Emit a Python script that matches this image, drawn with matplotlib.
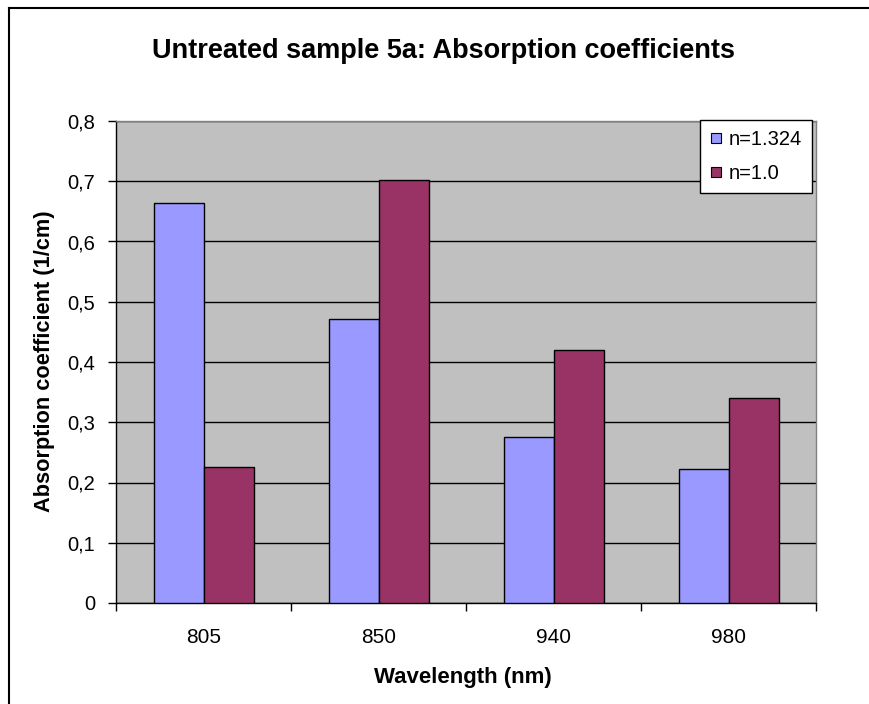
import matplotlib
matplotlib.use("Agg")
import matplotlib.pyplot as plt
import numpy as np
from matplotlib.lines import Line2D
from matplotlib.ticker import FuncFormatter

plt.rcParams['font.family'] = ['Liberation Sans', 'DejaVu Sans']

# Data.
wavelengths = ["805", "850", "940", "980"]
n_1324 = [0.664, 0.471, 0.276, 0.222]
n_10 = [0.226, 0.702, 0.420, 0.340]
series_names = ["n=1.324", "n=1.0"]
series_colors = ["#9999FF", "#993366"]

fig = plt.figure(figsize=(8.69, 7.04), dpi=100)
ax = fig.add_axes([116/869, 1-603/704, 700/869, 482/704])
ax.set_facecolor("#C0C0C0")

x = np.arange(len(wavelengths))
w = 1/3.5
ax.bar(x - w/2, n_1324, w, color=series_colors[0], edgecolor="black", linewidth=1, zorder=3)
ax.bar(x + w/2, n_10, w, color=series_colors[1], edgecolor="black", linewidth=1, zorder=3)

ax.set_xlim(-0.5, len(wavelengths) - 0.5)
ax.set_ylim(0, 0.8)
ax.set_yticks(np.arange(0, 0.81, 0.1))
ax.yaxis.set_major_formatter(FuncFormatter(lambda v, p: "0" if abs(v) < 1e-9 else ("%.1f" % v).replace(".", ",")))
ax.yaxis.grid(True, color="black", linewidth=1, zorder=1)
ax.set_axisbelow(True)

# category ticks at boundaries, labels centred
ax.set_xticks(np.arange(-0.5, len(wavelengths)), minor=False)
ax.set_xticklabels([""] * (len(wavelengths) + 1))
ax.set_xticks(x, minor=True)
ax.set_xticklabels(wavelengths, minor=True)
ax.tick_params(axis="x", which="minor", length=0, pad=18, labelsize=15)
ax.tick_params(axis="x", which="major", length=6, width=1, direction="out")
ax.tick_params(axis="y", length=6, width=1, direction="out", labelsize=14.5, pad=9)

for s in ["top", "right"]:
    ax.spines[s].set_color("#808080")
    ax.spines[s].set_linewidth(1)
for s in ["left", "bottom"]:
    ax.spines[s].set_color("black")
    ax.spines[s].set_linewidth(1)

fig.text(443/869, 1-51/704, "Untreated sample 5a: Absorption coefficients",
         ha="center", va="center", fontsize=19.5, fontweight="bold")
fig.text(463/869, 1-677/704, "Wavelength (nm)", ha="center", va="center",
         fontsize=16, fontweight="bold")
fig.text(45/869, 1-361/704, "Absorption coefficient (1/cm)", ha="center", va="center",
         rotation=90, fontsize=15.7, fontweight="bold")

handles = [Line2D([], [], marker="s", linestyle="none", markersize=7,
                  markerfacecolor=c, markeredgecolor="black", markeredgewidth=0.8)
           for c in series_colors]
leg = ax.legend(handles, series_names, loc="upper left", bbox_to_anchor=(700/869, 1-120/704),
                bbox_transform=fig.transFigure, frameon=True, fancybox=False,
                fontsize=14.5, handlelength=0.6, handletextpad=0.3, borderpad=0.5,
                labelspacing=0.72, borderaxespad=0)
leg.get_frame().set_edgecolor("black")
leg.get_frame().set_linewidth(1)
leg.get_frame().set_facecolor("white")
leg.get_frame().set_alpha(1)
leg.set_zorder(5)

# outer chart border
fig.add_artist(Line2D([9/869, 9/869], [0, 1-8/704], transform=fig.transFigure, color="black", linewidth=1.5))
fig.add_artist(Line2D([9/869, 1], [1-8/704, 1-8/704], transform=fig.transFigure, color="black", linewidth=1.5))

fig.savefig("out.png", dpi=100)
